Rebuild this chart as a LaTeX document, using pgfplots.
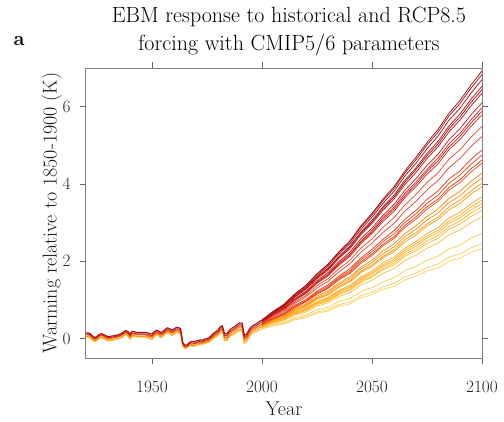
\documentclass[border=0pt]{standalone}
\usepackage{pgfplots}
\usepackage{pgfplotstable}
\pgfplotsset{compat=1.18}

\definecolor{c1}{HTML}{A50F15}
\definecolor{c2}{HTML}{B01418}
\definecolor{c3}{HTML}{A81216}
\definecolor{c4}{HTML}{B8161B}
\definecolor{c5}{HTML}{AD1117}
\definecolor{c6}{HTML}{BB1A1D}
\definecolor{c7}{HTML}{CC2020}
\definecolor{c8}{HTML}{D42A22}
\definecolor{c9}{HTML}{C92320}
\definecolor{c10}{HTML}{D62C24}
\definecolor{c11}{HTML}{EC4E30}
\definecolor{c12}{HTML}{E84530}
\definecolor{c13}{HTML}{E53B1C}
\definecolor{c14}{HTML}{EE4A1A}
\definecolor{c15}{HTML}{E8421B}
\definecolor{c16}{HTML}{F0501C}
\definecolor{c17}{HTML}{FF8A0C}
\definecolor{c18}{HTML}{FF9410}
\definecolor{c19}{HTML}{FF9A14}
\definecolor{c20}{HTML}{FFA018}
\definecolor{c21}{HTML}{FFAA20}
\definecolor{c22}{HTML}{FFB02A}
\definecolor{c23}{HTML}{FFB530}
\definecolor{c24}{HTML}{FFB830}
\definecolor{c25}{HTML}{FFBC38}
\definecolor{c26}{HTML}{FFC040}
\definecolor{c27}{HTML}{FFCC50}
\definecolor{c28}{HTML}{FFD060}
\definecolor{c29}{HTML}{FFD468}
\definecolor{h1}{HTML}{A50F15}
\definecolor{h2}{HTML}{D7301F}
\definecolor{h3}{HTML}{F16913}
\definecolor{h4}{HTML}{FD9A1A}
\definecolor{h5}{HTML}{FEC44F}

% historical period, five members from high to low sensitivity
\pgfplotstableread{
year h1 h2 h3 h4 h5
1920 0.15 0.12 0.10 0.06 0.04
1921 0.15 0.12 0.10 0.06 0.04
1922 0.12 0.09 0.07 0.03 0.01
1923 0.07 0.04 0.02 -0.02 -0.04
1924 0.03 0.00 -0.02 -0.06 -0.08
1925 0.06 0.03 0.01 -0.03 -0.05
1926 0.11 0.08 0.06 0.02 0.00
1927 0.13 0.10 0.08 0.04 0.02
1928 0.11 0.08 0.06 0.02 0.00
1929 0.08 0.05 0.03 -0.01 -0.03
1930 0.05 0.02 0.00 -0.04 -0.06
1931 0.06 0.03 0.01 -0.03 -0.05
1932 0.07 0.04 0.02 -0.02 -0.04
1933 0.08 0.05 0.03 -0.01 -0.03
1934 0.09 0.06 0.04 0.00 -0.02
1935 0.11 0.08 0.06 0.02 0.00
1936 0.13 0.10 0.08 0.04 0.02
1937 0.17 0.14 0.12 0.08 0.06
1938 0.21 0.18 0.16 0.12 0.10
1939 0.19 0.15 0.13 0.09 0.07
1940 0.12 0.08 0.05 0.01 -0.02
1941 0.19 0.15 0.12 0.09 0.06
1942 0.18 0.14 0.12 0.08 0.06
1943 0.16 0.12 0.10 0.06 0.04
1944 0.16 0.12 0.10 0.06 0.04
1945 0.16 0.12 0.10 0.06 0.04
1946 0.16 0.12 0.10 0.06 0.04
1947 0.16 0.12 0.10 0.06 0.04
1948 0.15 0.11 0.08 0.05 0.02
1949 0.13 0.09 0.06 0.02 -0.01
1950 0.12 0.08 0.05 0.01 -0.02
1951 0.18 0.14 0.11 0.08 0.05
1952 0.22 0.18 0.15 0.12 0.09
1953 0.20 0.16 0.13 0.10 0.07
1954 0.16 0.12 0.09 0.05 0.02
1955 0.19 0.15 0.12 0.09 0.06
1956 0.24 0.20 0.17 0.14 0.11
1957 0.28 0.24 0.21 0.18 0.15
1958 0.26 0.22 0.19 0.16 0.13
1959 0.22 0.18 0.15 0.11 0.08
1960 0.25 0.21 0.18 0.14 0.11
1961 0.29 0.25 0.22 0.18 0.15
1962 0.29 0.25 0.22 0.18 0.15
1963 0.26 0.22 0.18 0.14 0.11
1964 -0.10 -0.13 -0.15 -0.18 -0.20
1965 -0.17 -0.19 -0.22 -0.24 -0.26
1966 -0.16 -0.18 -0.20 -0.22 -0.24
1967 -0.10 -0.12 -0.14 -0.16 -0.18
1968 -0.07 -0.11 -0.14 -0.17 -0.20
1969 -0.08 -0.12 -0.14 -0.18 -0.20
1970 -0.06 -0.10 -0.12 -0.16 -0.18
1971 -0.05 -0.08 -0.11 -0.14 -0.16
1972 -0.03 -0.06 -0.09 -0.12 -0.14
1973 -0.04 -0.07 -0.10 -0.13 -0.15
1974 -0.01 -0.04 -0.07 -0.10 -0.12
1975 0.00 -0.03 -0.06 -0.09 -0.11
1976 0.03 -0.01 -0.03 -0.07 -0.09
1977 0.08 0.04 0.02 -0.02 -0.04
1978 0.14 0.10 0.07 0.04 0.01
1979 0.18 0.14 0.11 0.07 0.04
1980 0.22 0.18 0.14 0.10 0.07
1981 0.31 0.27 0.23 0.20 0.16
1982 0.33 0.29 0.25 0.22 0.18
1983 0.13 0.08 0.03 -0.02 -0.06
1984 0.12 0.08 0.03 -0.02 -0.05
1985 0.20 0.16 0.11 0.06 0.03
1986 0.26 0.21 0.17 0.11 0.08
1987 0.29 0.24 0.20 0.14 0.11
1988 0.33 0.28 0.23 0.18 0.14
1989 0.38 0.33 0.28 0.22 0.18
1990 0.41 0.36 0.31 0.25 0.21
1991 0.40 0.34 0.29 0.22 0.18
1992 0.08 0.03 -0.02 -0.07 -0.12
1993 0.12 0.07 0.02 -0.03 -0.08
1994 0.22 0.17 0.12 0.07 0.02
1995 0.30 0.25 0.20 0.15 0.10
1996 0.34 0.29 0.24 0.19 0.14
1997 0.37 0.32 0.27 0.22 0.17
1998 0.41 0.36 0.31 0.25 0.20
1999 0.45 0.40 0.34 0.29 0.23
2000 0.48 0.42 0.37 0.31 0.25
}\hist

% RCP8.5 period, one column per parameter set
\pgfplotstableread{
year s1 s2 s3 s4 s5 s6 s7 s8 s9 s10 s11 s12 s13 s14 s15 s16 s17 s18 s19 s20 s21 s22 s23 s24 s25 s26 s27 s28 s29
2000 0.48 0.48 0.47 0.46 0.46 0.45 0.44 0.43 0.43 0.42 0.41 0.40 0.38 0.37 0.37 0.36 0.35 0.34 0.33 0.33 0.32 0.31 0.31 0.30 0.30 0.29 0.27 0.26 0.25
2005 0.70 0.70 0.68 0.67 0.67 0.65 0.64 0.62 0.62 0.61 0.59 0.57 0.54 0.53 0.52 0.51 0.49 0.48 0.46 0.46 0.44 0.43 0.43 0.42 0.41 0.40 0.37 0.35 0.33
2010 0.89 0.88 0.87 0.85 0.84 0.82 0.80 0.78 0.77 0.76 0.73 0.70 0.66 0.65 0.64 0.62 0.60 0.58 0.56 0.55 0.53 0.51 0.51 0.49 0.49 0.47 0.42 0.39 0.38
2015 1.16 1.15 1.13 1.10 1.09 1.08 1.04 1.02 1.01 0.99 0.95 0.92 0.87 0.84 0.83 0.81 0.78 0.76 0.73 0.72 0.69 0.67 0.66 0.64 0.64 0.61 0.55 0.51 0.49
2020 1.38 1.37 1.34 1.31 1.30 1.28 1.23 1.21 1.19 1.17 1.12 1.08 1.01 0.98 0.97 0.95 0.90 0.87 0.85 0.83 0.79 0.77 0.76 0.74 0.72 0.69 0.61 0.57 0.54
2025 1.68 1.67 1.63 1.60 1.58 1.55 1.50 1.47 1.45 1.43 1.37 1.31 1.23 1.20 1.17 1.15 1.10 1.06 1.03 1.02 0.96 0.94 0.92 0.90 0.88 0.84 0.75 0.69 0.66
2030 1.93 1.91 1.87 1.82 1.80 1.77 1.71 1.67 1.65 1.62 1.55 1.48 1.39 1.35 1.32 1.30 1.23 1.19 1.15 1.13 1.07 1.04 1.02 0.99 0.97 0.93 0.81 0.75 0.71
2035 2.25 2.23 2.19 2.13 2.11 2.08 2.00 1.96 1.93 1.90 1.81 1.73 1.62 1.58 1.55 1.52 1.44 1.40 1.35 1.33 1.25 1.22 1.20 1.17 1.14 1.09 0.96 0.88 0.84
2040 2.53 2.51 2.46 2.40 2.37 2.33 2.24 2.19 2.17 2.13 2.03 1.94 1.81 1.76 1.72 1.69 1.60 1.55 1.50 1.47 1.38 1.34 1.32 1.28 1.25 1.19 1.04 0.95 0.90
2045 2.92 2.89 2.83 2.76 2.73 2.69 2.59 2.53 2.50 2.46 2.34 2.24 2.09 2.04 1.99 1.95 1.85 1.80 1.74 1.71 1.60 1.56 1.53 1.49 1.46 1.39 1.22 1.11 1.06
2050 3.24 3.20 3.14 3.06 3.02 2.98 2.86 2.80 2.76 2.72 2.58 2.47 2.31 2.25 2.19 2.15 2.03 1.97 1.91 1.87 1.75 1.71 1.68 1.63 1.59 1.51 1.32 1.20 1.14
2055 3.61 3.57 3.50 3.41 3.37 3.32 3.19 3.13 3.08 3.03 2.88 2.75 2.57 2.51 2.44 2.40 2.27 2.20 2.13 2.09 1.96 1.91 1.87 1.82 1.78 1.69 1.47 1.34 1.28
2060 3.93 3.88 3.81 3.71 3.66 3.61 3.47 3.40 3.35 3.29 3.13 2.98 2.79 2.71 2.64 2.59 2.45 2.37 2.30 2.25 2.11 2.05 2.01 1.96 1.91 1.81 1.57 1.43 1.35
2065 4.34 4.29 4.21 4.10 4.05 3.99 3.84 3.76 3.70 3.65 3.46 3.30 3.09 3.01 2.93 2.88 2.72 2.64 2.56 2.50 2.34 2.29 2.24 2.18 2.13 2.02 1.76 1.60 1.52
2070 4.69 4.63 4.54 4.42 4.37 4.30 4.14 4.05 3.99 3.93 3.73 3.55 3.32 3.23 3.15 3.09 2.92 2.83 2.74 2.68 2.51 2.45 2.39 2.33 2.27 2.16 1.87 1.70 1.61
2075 5.07 5.01 4.91 4.79 4.73 4.66 4.48 4.38 4.32 4.25 4.04 3.85 3.60 3.50 3.41 3.35 3.16 3.07 2.97 2.91 2.72 2.65 2.60 2.53 2.46 2.34 2.03 1.84 1.75
2080 5.41 5.34 5.24 5.10 5.03 4.96 4.77 4.67 4.60 4.52 4.29 4.09 3.82 3.71 3.61 3.55 3.35 3.25 3.14 3.08 2.87 2.80 2.74 2.67 2.60 2.47 2.13 1.93 1.83
2085 5.83 5.76 5.65 5.50 5.43 5.35 5.15 5.04 4.96 4.89 4.64 4.42 4.13 4.02 3.91 3.84 3.63 3.52 3.41 3.33 3.12 3.04 2.98 2.90 2.83 2.68 2.32 2.11 2.00
2090 6.16 6.08 5.96 5.81 5.73 5.65 5.43 5.31 5.23 5.15 4.89 4.66 4.34 4.23 4.11 4.04 3.81 3.69 3.58 3.50 3.27 3.19 3.12 3.04 2.96 2.81 2.42 2.19 2.08
2095 6.56 6.48 6.35 6.19 6.11 6.02 5.79 5.66 5.58 5.49 5.21 4.97 4.64 4.51 4.39 4.31 4.07 3.95 3.82 3.74 3.49 3.41 3.33 3.25 3.16 3.00 2.60 2.35 2.23
2100 6.92 6.83 6.70 6.53 6.44 6.35 6.10 5.97 5.88 5.79 5.49 5.23 4.88 4.75 4.62 4.54 4.28 4.15 4.02 3.93 3.67 3.58 3.50 3.41 3.32 3.15 2.72 2.46 2.33
}\future

\begin{document}
\begin{tikzpicture}
\begin{axis}[name=ax,
 scale only axis, width=396pt, height=290pt,
 xmin=1920, xmax=2100, ymin=-0.5, ymax=7,
 xtick={1950,2000,2050,2100}, ytick={0,2,4,6},
 xticklabel style={/pgf/number format/1000 sep={}},
 xticklabel shift=14pt, yticklabel shift=6pt,
 tick align=outside, major tick length=6pt,
 axis line style={black!50, line width=1pt},
 major tick style={black!60, line width=0.8pt},
 tick label style={font=\fontsize{18}{18}\selectfont, text=black!85},
 label style={font=\fontsize{20}{20}\selectfont, text=black!90},
 xlabel={Year}, ylabel={Warming relative to 1850-1900 (K)},
 xlabel style={yshift=-2pt}, ylabel shift=-6pt,
 title={EBM response to historical and RCP8.5\\forcing with CMIP5/6 parameters},
 title style={align=center, font=\fontsize{22}{28}\selectfont, yshift=2pt, xshift=5pt},
 no markers, clip=false,
 every axis plot/.append style={line width=0.75pt}]
\addplot[h5, line width=1.1pt] table[x=year,y=h5]{\hist};
\addplot[h4, line width=1.1pt] table[x=year,y=h4]{\hist};
\addplot[h3, line width=1.1pt] table[x=year,y=h3]{\hist};
\addplot[h2, line width=1.1pt] table[x=year,y=h2]{\hist};
\addplot[h1, line width=1.1pt] table[x=year,y=h1]{\hist};
\addplot[c29] table[x=year,y=s29]{\future};
\addplot[c28] table[x=year,y=s28]{\future};
\addplot[c27] table[x=year,y=s27]{\future};
\addplot[c26] table[x=year,y=s26]{\future};
\addplot[c25] table[x=year,y=s25]{\future};
\addplot[c24] table[x=year,y=s24]{\future};
\addplot[c23] table[x=year,y=s23]{\future};
\addplot[c22] table[x=year,y=s22]{\future};
\addplot[c21] table[x=year,y=s21]{\future};
\addplot[c20] table[x=year,y=s20]{\future};
\addplot[c19] table[x=year,y=s19]{\future};
\addplot[c18] table[x=year,y=s18]{\future};
\addplot[c17] table[x=year,y=s17]{\future};
\addplot[c16] table[x=year,y=s16]{\future};
\addplot[c15] table[x=year,y=s15]{\future};
\addplot[c14] table[x=year,y=s14]{\future};
\addplot[c13] table[x=year,y=s13]{\future};
\addplot[c12] table[x=year,y=s12]{\future};
\addplot[c11] table[x=year,y=s11]{\future};
\addplot[c10] table[x=year,y=s10]{\future};
\addplot[c9] table[x=year,y=s9]{\future};
\addplot[c8] table[x=year,y=s8]{\future};
\addplot[c7] table[x=year,y=s7]{\future};
\addplot[c6] table[x=year,y=s6]{\future};
\addplot[c5] table[x=year,y=s5]{\future};
\addplot[c4] table[x=year,y=s4]{\future};
\addplot[c3] table[x=year,y=s3]{\future};
\addplot[c2] table[x=year,y=s2]{\future};
\addplot[c1] table[x=year,y=s1]{\future};
\end{axis}
\node[anchor=base west, font=\bfseries\fontsize{20}{20}\selectfont] at ([xshift=-76pt,yshift=23pt]ax.north west) {a};
\pgfresetboundingbox
\useasboundingbox ([xshift=-86pt,yshift=-63pt]ax.south west) rectangle ++(504pt,421pt);
\end{tikzpicture}
\end{document}
